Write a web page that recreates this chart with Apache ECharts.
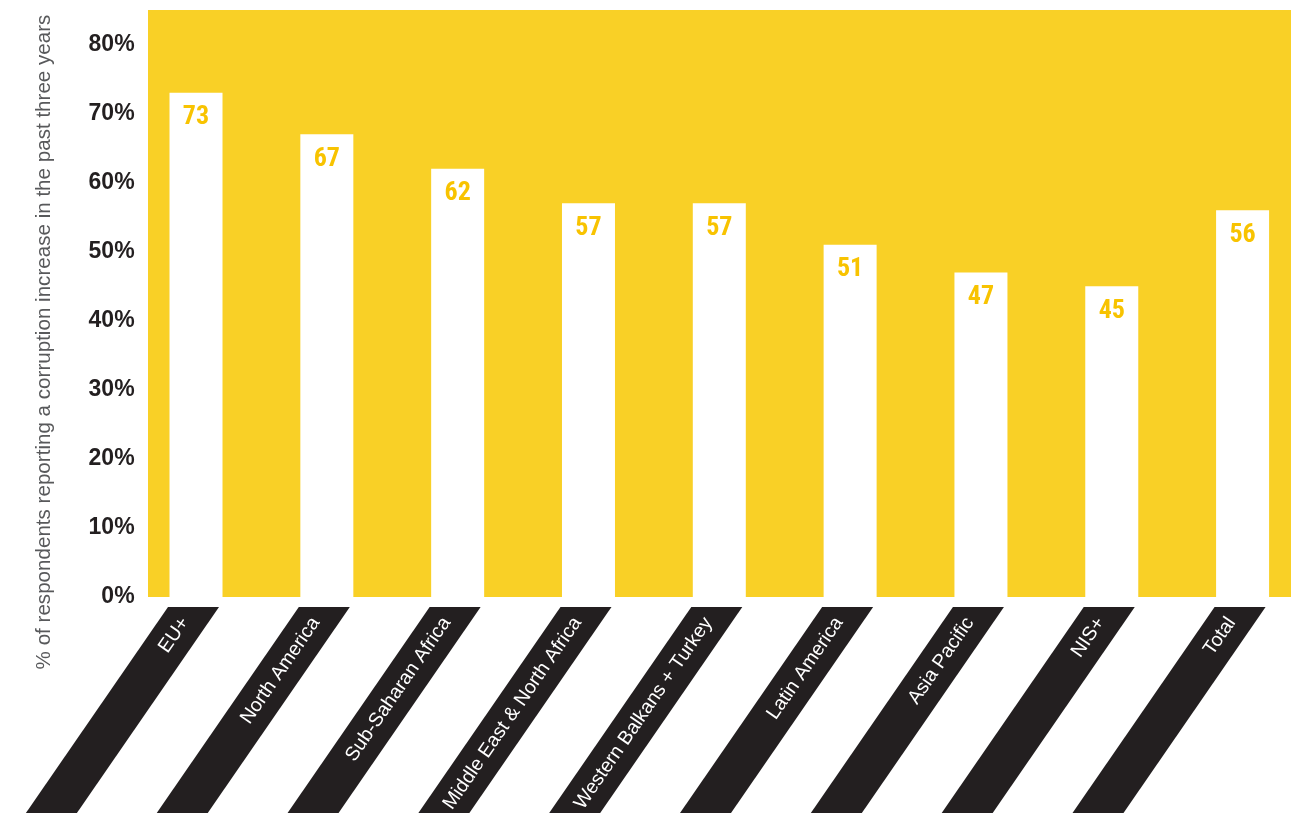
<!DOCTYPE html>
<html>
<head>
<meta charset="utf-8">
<script src="https://cdn.jsdelivr.net/npm/echarts@6/dist/echarts.min.js"></script>
<style>
  html, body { margin: 0; padding: 0; background: #ffffff; overflow: hidden; }
  #chart { width: 1310px; height: 813px; }
</style>
</head>
<body>
<div id="chart"></div>
<script>
const categories = ['EU+', 'North America', 'Sub-Saharan Africa', 'Middle East & North Africa', 'Western Balkans + Turkey', 'Latin America', 'Asia Pacific', 'NIS+', 'Total'];
const values = [73, 67, 62, 57, 57, 51, 47, 45, 56];
const yTickValues = [0, 10, 20, 30, 40, 50, 60, 70, 80];
const yTitle = '% of respondents reporting a corruption increase in the past three years';

const YELLOW = '#F9D026';
const LABEL_YELLOW = '#F8C300';
const DARK = '#231F20';

const chart = echarts.init(document.getElementById('chart'), null, { renderer: 'canvas' });

const slope = Math.tan((90 - 55.4) * Math.PI / 180); // dx per dy
const stripeAngle = 55.4 * Math.PI / 180;

const option = {
  animation: false,
  backgroundColor: '#ffffff',
  grid: { left: 130.6, right: 2, top: 10, bottom: 216, containLabel: false },
  graphic: [
    { type: 'rect', z: -10, silent: true, shape: { x: 148, y: 10, width: 1143, height: 587 }, style: { fill: YELLOW } },
    { type: 'text', z: 10, x: 44, y: 342, rotation: Math.PI / 2,
      style: { text: yTitle, fill: '#58595B', fontSize: 20.6, fontFamily: 'Liberation Sans, Arial, sans-serif', align: 'center', verticalAlign: 'middle' } }
  ],
  xAxis: {
    type: 'category',
    data: categories,
    axisLine: { show: false },
    axisTick: { show: false },
    axisLabel: { show: false },
    splitLine: { show: false }
  },
  yAxis: {
    type: 'value',
    min: 0,
    max: 85,
    interval: 10,
    offset: -17,
    axisLine: { show: false },
    axisTick: { show: false },
    splitLine: { show: false },
    axisLabel: {
      margin: 13,
      color: DARK,
      fontSize: 23,
      fontWeight: 'bold',
      fontFamily: 'Liberation Sans, Arial, sans-serif',
      padding: [0, 0, 10, 0],
      formatter: v => (yTickValues.indexOf(v) >= 0 ? v + '%' : '')
    }
  },
  series: [
    {
      type: 'bar',
      data: values,
      barWidth: 53,
      itemStyle: { color: '#ffffff' },
      label: {
        show: true,
        position: 'insideTop',
        distance: 12,
        color: LABEL_YELLOW,
        fontSize: 26,
        fontWeight: 'bold',
        fontFamily: "'Liberation Sans Narrow', 'Roboto Condensed', Roboto, sans-serif"
      }
    },
    {
      type: 'custom',
      clip: false,
      silent: true,
      data: categories.map((c, i) => [i]),
      renderItem: function (params, api) {
        const idx = api.value(0);
        const base = api.coord([idx, 0]);
        const tx = base[0] - 2.5;
        const ty = base[1] + 10;
        const hw = 25.5;
        const L = 400;
        const name = categories[idx];
        const d = 15;
        const ax = tx - Math.cos(stripeAngle) * d;
        const ay = ty + Math.sin(stripeAngle) * d;
        return {
          type: 'group',
          children: [
            {
              type: 'polygon',
              shape: { points: [[tx - hw, ty], [tx + hw, ty], [tx + hw - slope * L, ty + L], [tx - hw - slope * L, ty + L]] },
              style: { fill: DARK }
            },
            {
              type: 'text',
              x: ax,
              y: ay,
              rotation: stripeAngle,
              style: {
                text: name,
                fill: '#ffffff',
                fontSize: 19.5,
                fontFamily: 'Liberation Sans, Arial, sans-serif',
                align: 'right',
                verticalAlign: 'middle'
              }
            }
          ]
        };
      }
    }
  ]
};

chart.setOption(option);
</script>
</body>
</html>
